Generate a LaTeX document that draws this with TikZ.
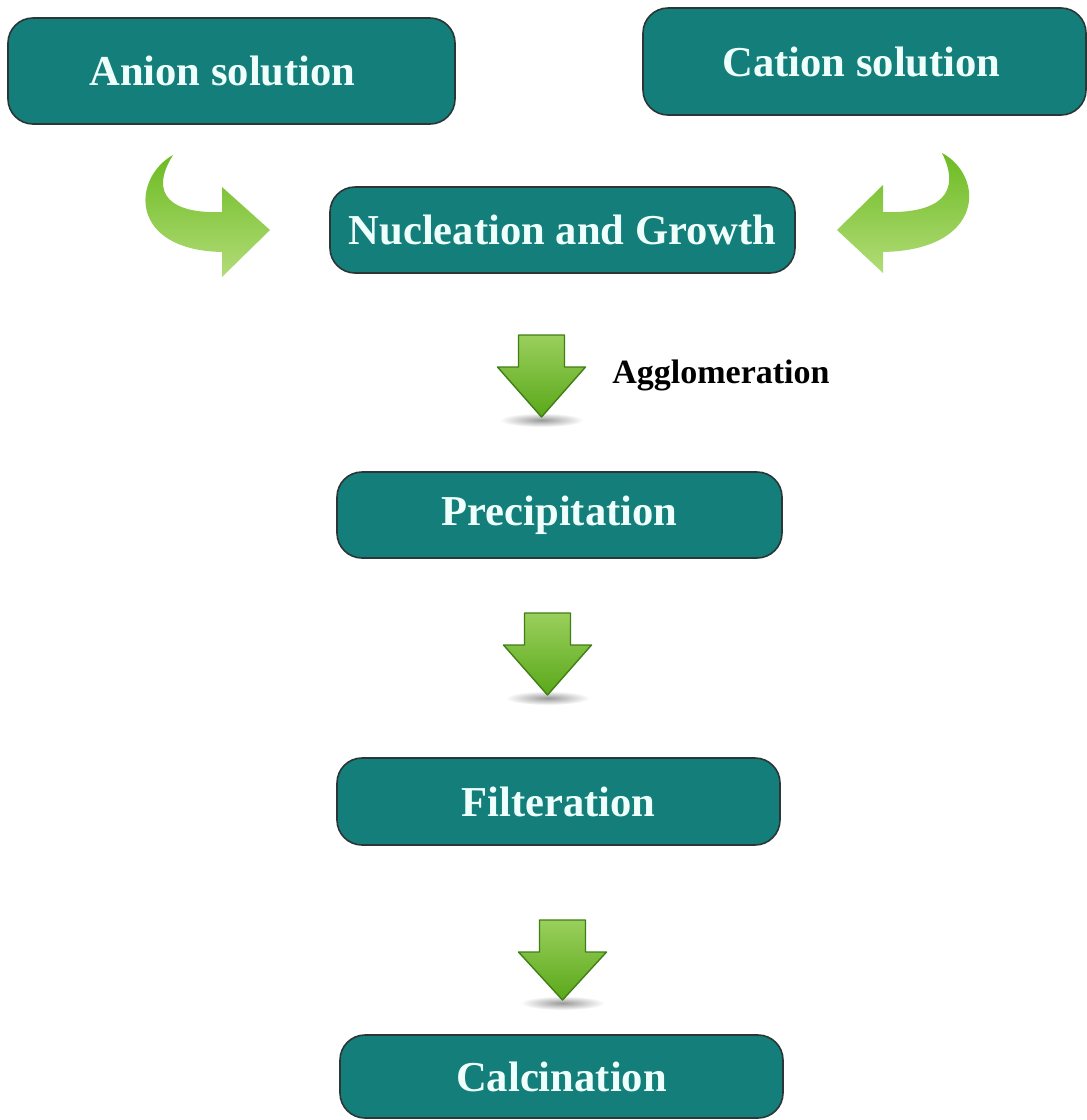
\documentclass[tikz,border=0pt]{standalone}
\usepackage{fontspec}
\setmainfont{Liberation Serif}
\definecolor{teal1}{HTML}{137E7A}
\definecolor{boxline}{HTML}{2B3636}
\definecolor{boxtxt}{HTML}{EEFFFC}
\definecolor{gtop}{HTML}{9ACF5C}
\definecolor{gbot}{HTML}{5AA81A}
\definecolor{gline}{HTML}{3F7F16}
\definecolor{ctop}{HTML}{6CBB22}
\definecolor{cbot}{HTML}{B2DC78}
\begin{document}
\begin{tikzpicture}[x=0.5pt,y=-0.5pt,
  box/.style={draw=boxline, line width=0.8pt, fill=teal1, rounded corners=12.5pt,
    inner sep=0pt, text=boxtxt, font=\fontsize{21.3}{25}\selectfont\bfseries},
  lbl/.style={inner sep=0pt, text=black, font=\fontsize{17}{20}\selectfont\bfseries, anchor=west},
  garrow/.style={draw=gline, line width=0.7pt, top color=gtop, bottom color=gbot, line join=round},
  carrow/.style={top color=ctop, bottom color=cbot, draw=none}
]
\useasboundingbox (0,0) rectangle (1087,1120);
\fill[white] (0,0) rectangle (1087,1120);

\newcommand{\greenarrow}[3]{%
  \shade[inner color=black!40, outer color=white] ({#1},{#3+3}) ellipse (42 and 7);
  \draw[garrow] ({#1-23},{#2}) -- ({#1+23},{#2}) -- ({#1+23},{#2+32}) -- ({#1+44},{#2+32})
     -- ({#1},{#3}) -- ({#1-44},{#2+32}) -- ({#1-23},{#2+32}) -- cycle;}

% boxes
\node[box, minimum width=223.5pt, minimum height=53pt] (anion) at (231.5,71) {Anion solution\hspace*{9pt}};
\node[box, minimum width=221.5pt, minimum height=53.5pt] (cation) at (864.5,61.5) {Cation solution\hspace*{3pt}};
\node[box, minimum width=232.5pt, minimum height=43pt] (nucl) at (562.5,230) {Nucleation and Growth};
\node[box, minimum width=222.5pt, minimum height=43pt] (prec) at (559.5,515) {Precipitation};
\node[box, minimum width=221.5pt, minimum height=43.5pt] (filt) at (558.5,801.5) {Filteration};
\node[box, minimum width=221.5pt, minimum height=41.5pt] (calc) at (561.5,1076.5) {Calcination};

% curved arrows
\path[carrow] (173,155) .. controls (132,178) and (128,250) .. (222,252) -- (222,277) -- (270,230)
  -- (222,187) -- (222,212) .. controls (172,214) and (148,195) .. (173,155) -- cycle;
\path[carrow] (942,153) .. controls (985,176) and (985,250) .. (883,252) -- (883,273) -- (837,230)
  -- (883,185) -- (883,212) .. controls (940,214) and (962,193) .. (942,153) -- cycle;

% down arrows
\greenarrow{541.5}{335}{417}
\greenarrow{547.5}{613}{695}
\greenarrow{562.5}{920}{1000}

\node[lbl] (aggl) at (612,375) {Agglomeration};
\end{tikzpicture}
\end{document}
